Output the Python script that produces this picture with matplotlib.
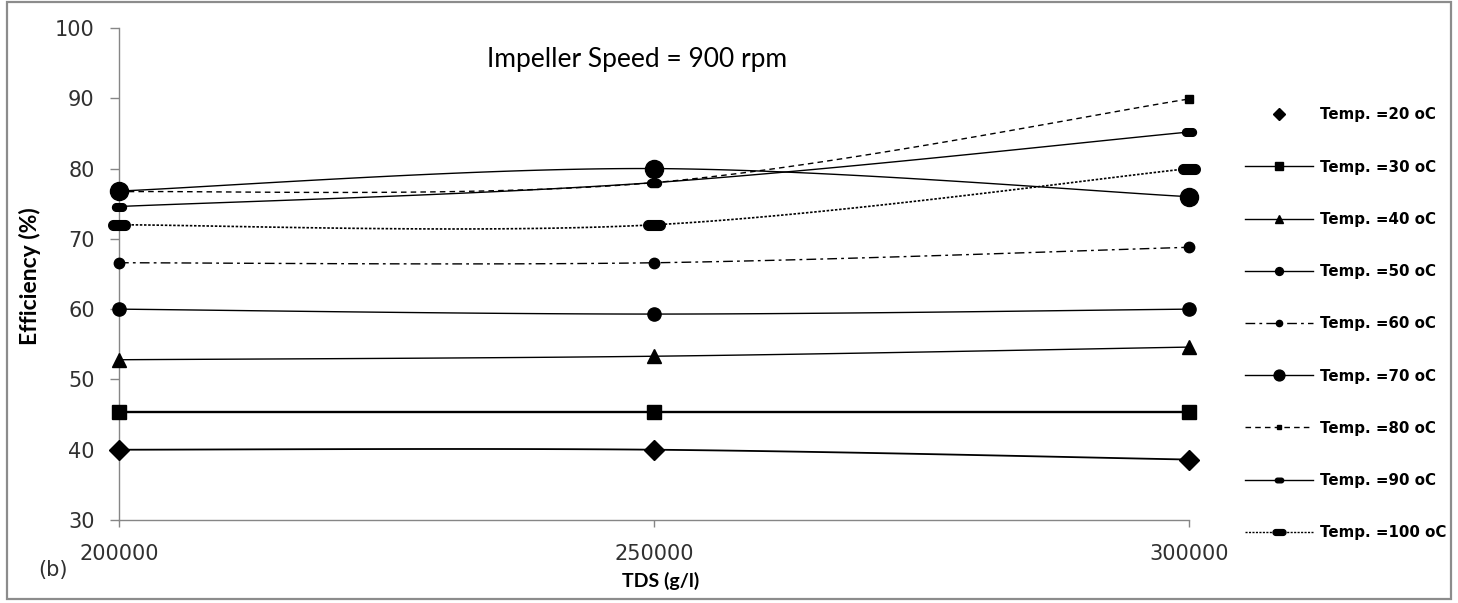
import numpy as np
import matplotlib
matplotlib.use("Agg")
import matplotlib.pyplot as plt
from matplotlib.lines import Line2D
from matplotlib.path import Path
from matplotlib.patches import Rectangle

# ---------------- data ----------------
tds = [200000, 250000, 300000]
xticks = [200000, 250000, 300000]
yticks = [30, 40, 50, 60, 70, 80, 90, 100]

t20 = [40.0, 40.0, 38.6]
t30 = [45.3, 45.3, 45.3]
t40 = [52.8, 53.3, 54.6]
t50 = [60.0, 59.3, 60.0]
t60 = [66.6, 66.6, 68.8]
t70 = [76.8, 80.0, 76.0]
t80 = [76.7, 78.0, 89.9]
t90 = [74.6, 78.0, 85.2]
t100 = [72.0, 72.0, 80.0]

labels = ["Temp. =20 oC", "Temp. =30 oC", "Temp. =40 oC", "Temp. =50 oC",
          "Temp. =60 oC", "Temp. =70 oC", "Temp. =80 oC", "Temp. =90 oC",
          "Temp. =100 oC"]
series = [t20, t30, t40, t50, t60, t70, t80, t90, t100]


def capsule(aspect):
    h = aspect
    th = np.linspace(-np.pi / 2, np.pi / 2, 20)
    right = np.column_stack([(1 - h) + h * np.cos(th), h * np.sin(th)])
    left = np.column_stack([-(1 - h) - h * np.cos(th), -h * np.sin(th)])
    v = np.vstack([right, left, right[:1]])
    codes = [Path.MOVETO] + [Path.LINETO] * (len(v) - 2) + [Path.CLOSEPOLY]
    return Path(v, codes)


# marker, markersize, linestyle, linewidth
styles = [
    ("D", 10, "-", 1.3),
    ("s", 10, "-", 1.7),
    ("^", 9.5, "-", 1.0),
    ("o", 9.5, "-", 1.0),
    ("o", 7.5, (0, (7, 3, 2, 3)), 1.0),
    ("o", 13, "-", 1.0),
    ("s", 5.8, (0, (4, 3)), 1.0),
    (capsule(0.55), 10, "-", 1.0),
    (capsule(0.45), 15.5, (0, (1.5, 1)), 1.2),
]


def excel_smooth(xs, ys, n=60):
    pts = np.column_stack([np.asarray(xs, float), np.asarray(ys, float)])
    out = []
    for i in range(len(pts) - 1):
        p0, p1 = pts[i], pts[i + 1]
        pm = pts[i - 1] if i > 0 else pts[i]
        pp = pts[i + 2] if i + 2 < len(pts) else pts[i + 1]
        c1 = p0 + (p1 - pm) / 6.0
        c2 = p1 - (pp - p0) / 6.0
        t = np.linspace(0, 1, n)[:, None]
        seg = ((1 - t) ** 3) * p0 + 3 * ((1 - t) ** 2) * t * c1 + 3 * (1 - t) * t ** 2 * c2 + t ** 3 * p1
        out.append(seg if i == 0 else seg[1:])
    return np.vstack(out)


W, H = 1458, 603
fig = plt.figure(figsize=(W / 100, H / 100), dpi=100)
ax = fig.add_axes([119 / W, 1 - 520 / H, (1189 - 119) / W, (520 - 28) / H])

handles = []
for ys, (mk, ms, ls, lw), lab in zip(series, styles, labels):
    sm = excel_smooth(tds, ys)
    ax.plot(sm[:, 0], sm[:, 1], color="black", lw=lw, ls=ls, clip_on=False,
            solid_capstyle="butt")
    ax.plot(tds, ys, ls="none", marker=mk, ms=ms, color="black", clip_on=False,
            zorder=3)
    if lab == labels[0]:
        handles.append(Line2D([], [], ls="none", marker=mk, ms=ms, color="black"))
    else:
        handles.append(Line2D([], [], ls=ls, lw=1.0, marker=mk, ms=ms, color="black"))

ax.set_xlim(200000, 300000)
ax.set_ylim(30, 100)
ax.set_xticks(xticks)
ax.set_xticklabels([str(v) for v in xticks])
ax.set_yticks(yticks)
ax.set_yticklabels([str(v) for v in yticks])

for s in ["top", "right"]:
    ax.spines[s].set_visible(False)
for s in ["left", "bottom"]:
    ax.spines[s].set_color("#868686")
    ax.spines[s].set_linewidth(1.0)

ax.tick_params(axis="y", direction="out", length=6.5, width=1.0, color="#868686",
               labelsize=15, labelcolor="#303030", pad=11)
ax.tick_params(axis="x", direction="out", length=5, width=1.0, color="#868686",
               labelsize=15, labelcolor="#303030", pad=12)
for lbl in ax.get_xticklabels() + ax.get_yticklabels():
    lbl.set_family("DejaVu Sans")

fig.text(637 / W, 1 - 60 / H, "Impeller Speed = 900 rpm", ha="center", va="center",
         fontsize=19, family="Lato", color="black")
fig.text(30 / W, 1 - 276 / H, "Efficiency (%)", ha="center", va="center",
         rotation=90, fontsize=16.5, family="Lato", fontweight="bold")
fig.text(661 / W, 1 - 581 / H, "TDS (g/l)", ha="center", va="center",
         fontsize=14, family="Lato", fontweight="bold")
fig.text(53 / W, 1 - 570 / H, "(b)", ha="center", va="center",
         fontsize=15, family="DejaVu Sans", color="#303030")

leg = fig.legend(handles, labels, loc="upper left",
                 bbox_to_anchor=(1245 / W, 1 - 107.5 / H),
                 frameon=False, borderpad=0, borderaxespad=0,
                 handlelength=4.55, handletextpad=0.45, labelspacing=2.48,
                 markerscale=0.6, prop={"family": "DejaVu Sans", "weight": "bold", "size": 10.8})

fig.patches.append(Rectangle((7 / W, 4 / H), (1451 - 7) / W, (599 - 2) / H,
                             transform=fig.transFigure, fill=False,
                             edgecolor="#8c8c8c", lw=1.6))

fig.savefig("out.png", dpi=100)
